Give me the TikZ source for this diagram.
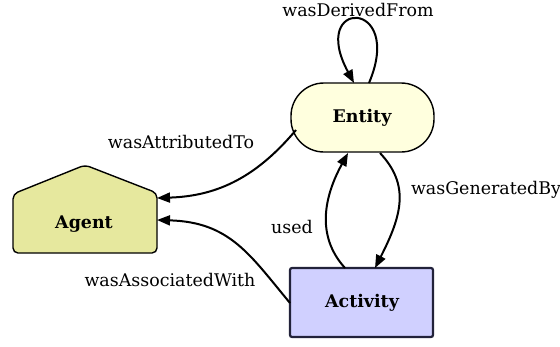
\documentclass[tikz,border=0pt]{standalone}
\usepackage{fontspec}
\setmainfont{DejaVu Serif}
\usetikzlibrary{arrows.meta}
\definecolor{entfill}{HTML}{FFFFDE}
\definecolor{agfill}{HTML}{E6E89E}
\definecolor{actfill}{HTML}{D0D0FF}
\definecolor{actline}{HTML}{22223A}
\tikzset{
  conn/.style={line width=2bp, -{Triangle[length=13bp,width=10bp]}},
  lbl/.style={font=\fontsize{17.5}{20}\selectfont, inner sep=0pt},
  nlbl/.style={font=\fontsize{17.5}{20}\selectfont\bfseries, inner sep=0pt},
}
\begin{document}
\begin{tikzpicture}[x=1bp,y=-1bp]
\useasboundingbox (0,0) rectangle (560,346);
% Entity
\draw[fill=entfill, line width=1.4bp, rounded corners=33bp] (291,83) rectangle (434,152);
\node[nlbl] (entity) at (362,118) {Entity};
% Agent
\draw[fill=agfill, line width=1.4bp, rounded corners=5bp] (13,253) -- (13,194) -- (85,165) -- (157,193) -- (157,253) -- cycle;
\node[nlbl] (agent) at (84,224) {Agent};
% Activity
\draw[fill=actfill, draw=actline, line width=2.2bp, rounded corners=2bp] (290,268) rectangle (433,337);
\node[nlbl] (activity) at (362,303) {Activity};
% anchor coordinates
\coordinate (eTopR) at (369,83);
\coordinate (eTopL) at (354,83);
\coordinate (eLeft) at (296,130);
\coordinate (eBotL) at (348,153);
\coordinate (eBotR) at (380,153);
\coordinate (gTop) at (157,198);
\coordinate (gBot) at (157,220);
\coordinate (aTopL) at (345,268);
\coordinate (aTopR) at (375,268);
\coordinate (aLeft) at (290,303);
% edges
\draw[conn] (eTopR) .. controls (405,-2) and (308,-2) .. (eTopL);
\draw[conn] (eLeft) .. controls (258,175) and (220,196) .. (gTop);
\draw[conn] (aLeft) .. controls (250,255) and (230,222) .. (gBot);
\draw[conn] (aTopL) .. controls (315,235) and (325,195) .. (eBotL);
\draw[conn] (eBotR) .. controls (410,185) and (402,215) .. (aTopR);
% labels
\node[lbl] (l1) at (358,10) {wasDerivedFrom};
\node[lbl] (l2) at (181,142) {wasAttributedTo};
\node[lbl] (l3) at (486,190) {wasGeneratedBy};
\node[lbl] (l4) at (292,227) {used};
\node[lbl] (l5) at (170,280) {wasAssociatedWith};
\end{tikzpicture}
\end{document}
